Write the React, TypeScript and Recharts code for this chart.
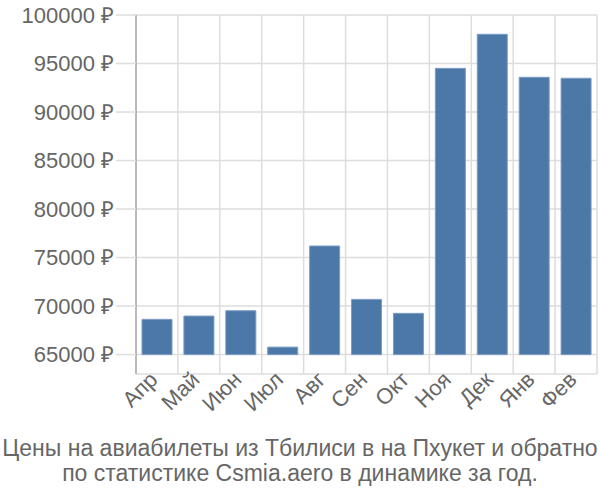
import { BarChart, Bar, XAxis, YAxis, CartesianGrid } from "recharts";

const months = ["Апр", "Май", "Июн", "Июл", "Авг", "Сен", "Окт", "Ноя", "Дек", "Янв", "Фев"];
const prices = [68630, 68970, 69520, 65770, 76190, 70690, 69250, 94500, 98010, 93580, 93480];
const yTicks = [65000, 70000, 75000, 80000, 85000, 90000, 95000, 100000];
const BASE = 65000;

const data = months.map((m, i) => ({ name: m, price: [BASE, prices[i]] }));

const FONT = "'Liberation Sans', Arial, sans-serif";

function MonthTick(props: any) {
  const { x, y, payload } = props;
  const tx = x + 2;
  const ty = y + 1;
  return (
    <text
      x={tx}
      y={ty}
      transform={`rotate(-45, ${tx}, ${ty})`}
      textAnchor="end"
      fontSize={22}
      fontFamily={FONT}
      fill="#666"
    >
      {payload.value}
    </text>
  );
}

export default function App() {
  return (
    <div style={{ position: "absolute", left: 0, top: 0, width: 600, height: 500, background: "#fff" }}>
      <BarChart
        width={600}
        height={500}
        data={data}
        margin={{ top: 15, right: 3, left: 0, bottom: 66 }}
        barSize={30}
      >
        <CartesianGrid
          stroke="#ddd"
          strokeWidth={1.5}
          verticalCoordinatesGenerator={({ offset }: any) =>
            months.map((_, i) => offset.left + (i * offset.width) / months.length).concat(offset.left + offset.width)
          }
        />
        <XAxis
          dataKey="name"
          axisLine={false}
          tickLine={false}
          interval={0}
          height={60}
          tickMargin={0}
          tick={<MonthTick />}
        />
        <YAxis
          width={136}
          domain={[63000, 100000]}
          ticks={yTicks}
          allowDataOverflow
          tickSize={20}
          tickMargin={2}
          tickLine={{ stroke: "#ddd", strokeWidth: 1.5 }}
          axisLine={{ stroke: "#aaa", strokeWidth: 1.5 }}
          tick={{ fontSize: 22, fill: "#666", fontFamily: FONT }}
          tickFormatter={(v: number) => `${v} ₽`}
        />
        <Bar dataKey="price" fill="#4c78a8" stroke="#7a9cc5" strokeWidth={1} isAnimationActive={false} />
      </BarChart>
      <div
        style={{
          position: "absolute",
          left: 0,
          top: 436,
          width: 600,
          textAlign: "center",
          fontFamily: FONT,
          fontSize: 23,
          lineHeight: "25px",
          color: "#666",
          whiteSpace: "nowrap",
        }}
      >
        Цены на авиабилеты из Тбилиси в на Пхукет и обратно
        <br />
        по статистике Csmia.aero в динамике за год.
      </div>
    </div>
  );
}
